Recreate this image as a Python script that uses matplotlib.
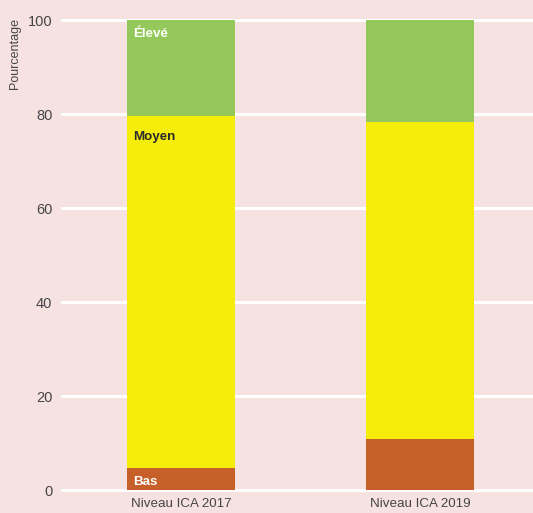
import matplotlib.pyplot as plt
import numpy as np

plt.rcParams['font.family'] = ['Liberation Sans Narrow', 'Liberation Sans', 'DejaVu Sans']

categories = ['Niveau ICA 2017', 'Niveau ICA 2019']
bas = [4.6, 10.9]
moyen = [75.0, 67.4]
eleve = [20.4, 21.7]

bg = '#f7e2e2'
c_bas = '#c75f28'
c_moyen = '#f5ec0a'
c_eleve = '#95c85a'

fig = plt.figure(figsize=(5.33, 5.13), dpi=100, facecolor=bg)
ax = fig.add_axes([62 / 533, 23 / 513, 471 / 533, 470 / 513])
ax.set_facecolor(bg)

x = np.arange(len(categories))
w = 0.452
ax.bar(x, bas, width=w, color=c_bas, zorder=3)
ax.bar(x, moyen, width=w, bottom=bas, color=c_moyen, zorder=3)
ax.bar(x, eleve, width=w, bottom=np.array(bas) + np.array(moyen), color=c_eleve, zorder=3)

ax.set_xlim(-0.498, 1.473)
ax.set_ylim(0, 100)
ax.set_yticks([0, 20, 40, 60, 80, 100])
ax.yaxis.grid(True, color='white', linewidth=2.2, zorder=1)
for ln in ax.get_ygridlines():
    ln.set_clip_on(False)
ax.set_xticks(x)
ax.set_xticklabels(categories)
ax.tick_params(axis='both', length=0, labelsize=10.5, colors='#454545')
ax.tick_params(axis='x', labelsize=9.6, pad=6)
ax.tick_params(axis='y', pad=7)
for s in ax.spines.values():
    s.set_visible(False)

fig.text(15 / 533, 1 - 18 / 513, 'Pourcentage', rotation=90, ha='center', va='top',
         fontsize=9, color='#454545')

# labels inside first bar
left = x[0] - w / 2
ax.annotate('Élevé', (left, 100), xytext=(6, -17), textcoords='offset pixels',
            color='white', fontweight='bold', fontsize=9.6, va='baseline', zorder=4)
ax.annotate('Moyen', (left, bas[0] + moyen[0]), xytext=(6, -24), textcoords='offset pixels',
            color='#2a2a2a', fontweight='bold', fontsize=9.6, va='baseline', zorder=4)
ax.annotate('Bas', (left, 0), xytext=(6, 5), textcoords='offset pixels',
            color='white', fontweight='bold', fontsize=9.6, va='baseline', zorder=4)

plt.savefig('out.png', dpi=100, facecolor=bg)
